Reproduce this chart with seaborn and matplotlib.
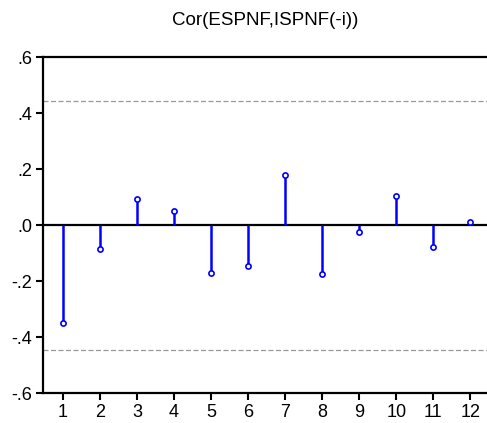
import matplotlib
matplotlib.use("Agg")
import matplotlib.pyplot as plt
import seaborn as sns
import pandas as pd

lags = [1, 2, 3, 4, 5, 6, 7, 8, 9, 10, 11, 12]
corr = [-0.351, -0.086, 0.093, 0.051, -0.173, -0.145, 0.180, -0.176, -0.024, 0.104, -0.079, 0.010]
bound = 0.445
yticks = [0.6, 0.4, 0.2, 0.0, -0.2, -0.4, -0.6]
ytick_labels = [".6", ".4", ".2", ".0", "-.2", "-.4", "-.6"]
title = "Cor(ESPNF,ISPNF(-i))"

sns.set_style("ticks")
plt.rcParams['font.family'] = ['Liberation Sans', 'DejaVu Sans']
plt.rcParams['text.color'] = 'black'
plt.rcParams['xtick.color'] = 'black'
plt.rcParams['ytick.color'] = 'black'

df = pd.DataFrame({"lag": lags, "corr": corr})

fig = plt.figure(figsize=(4.87, 4.23), dpi=100)
ax = fig.add_axes([0.0883, 0.0709, 0.9117, 0.794])

ax.axhline(bound, color="#999999", lw=0.9, ls=(0, (4, 2)), zorder=1)
ax.axhline(-bound, color="#999999", lw=0.9, ls=(0, (4, 2)), zorder=1)
ax.axhline(0, color="black", lw=1.6, zorder=2)
ax.vlines(df["lag"], 0, df["corr"], color="#0000ff", lw=1.8, zorder=3)
sns.scatterplot(data=df, x="lag", y="corr", ax=ax, marker="o", s=14,
                facecolor="white", edgecolor="#0000ff", linewidth=1.2, zorder=4)

ax.set_xlim(0.46, 12.45)
ax.set_ylim(-0.6, 0.6)
ax.set_xticks(lags)
ax.set_xticklabels([str(l) for l in lags], fontsize=13)
ax.set_yticks(yticks)
ax.set_yticklabels(ytick_labels, fontsize=13)
ax.set_xlabel("")
ax.set_ylabel("")
ax.tick_params(direction="out", length=5, width=1.5, pad=3, colors="black")
for s in ["left", "bottom", "top"]:
    ax.spines[s].set_linewidth(1.6)
    ax.spines[s].set_color("black")
ax.spines["right"].set_visible(False)
ax.set_title(title, fontsize=13.5, pad=23, color="black")

fig.savefig("out.png", dpi=100)
